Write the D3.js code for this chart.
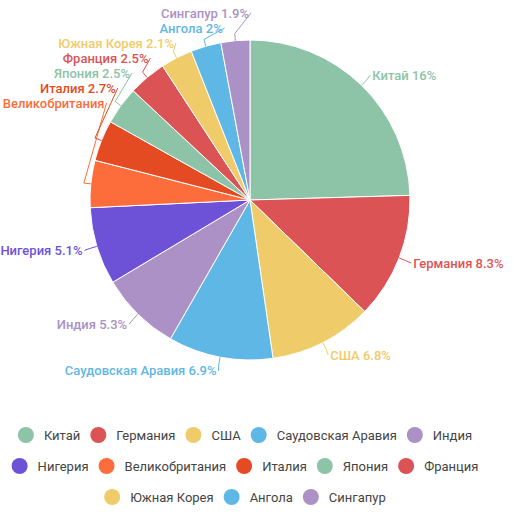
<!DOCTYPE html>
<html>
<head>
<meta charset="utf-8">
<script src="https://cdn.jsdelivr.net/npm/d3@7"></script>
<style>
  body { margin: 0; background: #fff; }
  svg { font-family: Roboto, "Noto Sans", sans-serif; }
</style>
</head>
<body>
<svg id="chart" width="514" height="514"></svg>
<script>
// data
const countries = ["Китай", "Германия", "США", "Саудовская Аравия", "Индия", "Нигерия",
                   "Великобритания", "Италия", "Япония", "Франция", "Южная Корея", "Ангола", "Сингапур"];
const shares = [16, 8.3, 6.8, 6.9, 5.3, 5.1, 3.1, 2.7, 2.5, 2.5, 2.1, 2, 1.9];
const colors = ["#8dc3a7", "#dc5356", "#f0cb69", "#5fb7e5", "#ab91c5", "#6d52d8",
                "#fd6d3c", "#e44b23", "#8dc3a7", "#dc5356", "#f0cb69", "#5fb7e5", "#ab91c5"];

let svg = d3.select("#chart");
let cx = 250, cy = 200, r = 160;

let data = countries.map(function(c, i) { return { name: c, value: shares[i], color: colors[i] }; });

let pie = d3.pie().sort(null).value(function(d) { return d.value; });
let arc = d3.arc().innerRadius(0).outerRadius(r);
let arcs = pie(data);

let g = svg.append("g").attr("transform", "translate(" + cx + "," + cy + ")");

g.selectAll("path")
    .data(arcs)
    .enter().append("path")
        .attr("d", arc)
        .attr("fill", function(d) { return d.data.color; })
        .attr("stroke", "#fff")
        .attr("stroke-width", 1);

// label layout: text edge sits on a circle just outside the pie,
// labels of the upper-left quarter are stacked as a list from the top
let R = r + 14, step = 15, topY = 13 - cy;
arcs.forEach(function(d) {
    d.mid = (d.startAngle + d.endAngle) / 2;
    d.left = d.mid > Math.PI;
    d.ly = -R * Math.cos(d.mid);
});
let stacked = arcs.filter(function(d) { return d.mid > 1.5 * Math.PI; })
                  .sort(function(a, b) { return a.ly - b.ly; });
stacked.forEach(function(d, i) { d.ly = topY + i * step; });

["left", "right"].forEach(function(side) {
    let list = arcs.filter(function(d) { return (side == "left") == d.left && stacked.indexOf(d) < 0; })
                   .sort(function(a, b) { return a.ly - b.ly; });
    for (let i = 1; i < list.length; i++) {
        if (list[i].ly < list[i-1].ly + step) list[i].ly = list[i-1].ly + step;
    }
});

arcs.forEach(function(d) {
    let dx = Math.sqrt(Math.max(0, R * R - d.ly * d.ly));
    d.lx = d.left ? -dx : dx;
});

let labels = g.append("g").attr("class", "labels");

labels.selectAll("polyline")
    .data(arcs)
    .enter().append("polyline")
        .attr("fill", "none")
        .attr("stroke", function(d) { return d.data.color; })
        .attr("stroke-width", 1)
        .attr("points", function(d) {
            let p0 = [r * Math.sin(d.mid), -r * Math.cos(d.mid)];
            let p1 = [(r + 7) * Math.sin(d.mid), -(r + 7) * Math.cos(d.mid)];
            let p2 = [d.lx + (d.left ? 1 : -1), d.ly];
            return [p0, p1, p2].map(function(p) { return p.join(","); }).join(" ");
        });

labels.selectAll("text")
    .data(arcs)
    .enter().append("text")
        .attr("x", function(d) { return d.lx + (d.left ? -1 : 1); })
        .attr("y", function(d) { return d.ly; })
        .attr("dy", "0.35em")
        .attr("text-anchor", function(d) { return d.left ? "end" : "start"; })
        .attr("fill", function(d) { return d.data.color; })
        .style("font-size", "13px")
        .style("font-weight", 500)
        .text(function(d) { return d.data.name + " " + d.data.value + "%"; })
        .each(function(d) {
            // drop the value when the label runs off the edge
            let room = d.left ? cx + d.lx : 514 - cx - d.lx;
            if (this.getComputedTextLength() > room) d3.select(this).text(d.data.name);
        });

// legend
let legend = svg.append("g").attr("class", "legend");
let maxRow = 490, rowH = 31, legendTop = 435;
let items = legend.selectAll("g")
    .data(data)
    .enter().append("g");

items.append("circle")
    .attr("cx", 8)
    .attr("r", 8)
    .attr("fill", function(d) { return d.color; });

items.append("text")
    .attr("x", 26)
    .attr("dy", "0.35em")
    .attr("fill", "#444")
    .style("font-size", "13px")
    .text(function(d) { return d.name; });

let rows = [], row = [], rowW = 0;
items.each(function(d) {
    let w = 26 + d3.select(this).select("text").node().getComputedTextLength() + 10;
    if (rowW + w > maxRow && row.length) { rows.push({ items: row, w: rowW }); row = []; rowW = 0; }
    row.push({ node: this, w: w });
    rowW += w;
});
rows.push({ items: row, w: rowW });

rows.forEach(function(rw, ri) {
    let x = 250 - rw.w / 2;
    rw.items.forEach(function(it) {
        d3.select(it.node).attr("transform", "translate(" + x + "," + (legendTop + ri * rowH) + ")");
        x += it.w;
    });
});
</script>
</body>
</html>
